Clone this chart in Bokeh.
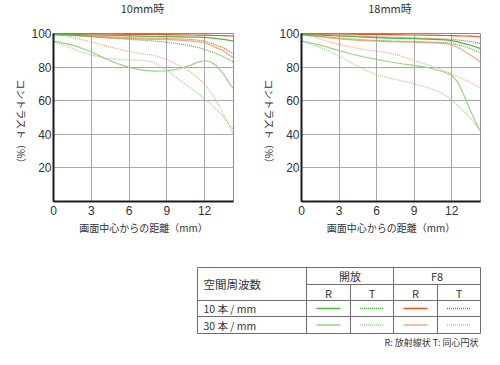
import math
from bokeh.plotting import figure
from bokeh.layouts import column, row
from bokeh.models import Range1d, FixedTicker
from bokeh.core.properties import value
from bokeh.embed import file_html
from bokeh.resources import INLINE

# ---------------- data ----------------
X = [0, 1, 2, 3, 4, 5, 6, 7, 8, 9, 10, 11, 11.5, 12, 12.5, 13, 13.5, 14, 14.3]

# 10mm
w_open_10R = [99.5, 99.4, 99.3, 99.1, 99.0, 98.8, 98.6, 98.4, 98.2, 98.1, 98.0, 97.9, 97.8, 97.7, 97.4, 97.0, 96.5, 95.9, 95.5]
w_open_10T = [99.0, 98.8, 98.5, 98.1, 97.6, 97.1, 96.5, 96.0, 95.5, 94.8, 93.8, 92.5, 91.6, 90.5, 89.2, 87.8, 86.3, 84.2, 83.0]
w_open_30R = [95.5, 94.0, 92.0, 89.0, 85.5, 82.3, 79.8, 78.2, 77.6, 77.8, 79.0, 81.5, 83.0, 83.8, 83.2, 80.5, 76.0, 70.0, 67.0]
w_open_30T = [95.3, 92.5, 89.5, 87.2, 85.5, 84.6, 84.2, 84.1, 82.8, 78.0, 72.5, 67.0, 64.0, 61.0, 58.0, 54.5, 50.5, 45.5, 43.0]
w_f8_10R = [100.0, 100.0, 99.9, 99.8, 99.7, 99.6, 99.5, 99.5, 99.4, 99.3, 99.2, 99.1, 99.0, 99.0, 98.9, 98.8, 98.7, 98.6, 98.5]
w_f8_10T = [100.0, 99.6, 99.1, 98.6, 98.2, 97.9, 97.6, 97.4, 97.2, 97.0, 96.8, 96.4, 96.0, 95.5, 94.2, 92.8, 91.5, 89.3, 88.0]
w_f8_30R = [99.6, 99.2, 98.7, 98.1, 97.6, 97.2, 96.9, 96.7, 96.5, 96.3, 96.0, 95.5, 95.0, 94.5, 93.0, 91.3, 89.6, 87.0, 85.5]
w_f8_30T = [100.0, 98.5, 96.8, 95.0, 93.0, 91.0, 89.3, 88.0, 87.0, 84.5, 80.8, 76.5, 73.5, 70.0, 65.0, 59.0, 52.0, 44.5, 40.0]

# 18mm
t_open_10R = [99.5, 99.2, 98.9, 98.5, 98.2, 97.9, 97.6, 97.3, 97.1, 96.9, 96.7, 96.4, 96.2, 95.8, 95.0, 94.0, 93.0, 91.8, 91.0]
t_open_10T = [99.0, 98.5, 98.0, 97.4, 96.8, 96.3, 95.9, 95.6, 95.4, 95.2, 95.0, 94.8, 94.6, 94.2, 93.3, 92.2, 91.0, 89.5, 88.5]
t_open_30R = [95.5, 94.0, 92.0, 89.8, 87.8, 86.0, 84.6, 83.2, 82.0, 81.0, 79.8, 78.0, 76.8, 75.0, 71.0, 63.0, 54.0, 46.0, 42.0]
t_open_30T = [95.5, 93.0, 90.0, 86.5, 82.5, 78.5, 75.5, 73.5, 71.8, 70.2, 68.0, 65.2, 63.0, 60.2, 57.0, 53.5, 49.5, 45.0, 42.0]
t_f8_10R = [100.0, 99.9, 99.8, 99.7, 99.6, 99.5, 99.4, 99.3, 99.2, 99.1, 99.0, 98.9, 98.8, 98.7, 98.6, 98.5, 98.4, 98.2, 98.0]
t_f8_10T = [99.8, 99.5, 99.2, 98.9, 98.6, 98.3, 98.0, 97.7, 97.5, 97.3, 97.1, 96.9, 96.7, 96.5, 96.1, 95.7, 95.2, 94.6, 94.0]
t_f8_30R = [99.5, 98.5, 97.5, 96.8, 96.2, 95.8, 95.5, 95.2, 95.0, 94.8, 94.6, 94.3, 94.0, 93.3, 91.8, 89.5, 87.2, 84.7, 83.0]
t_f8_30T = [100.0, 98.0, 95.5, 93.5, 91.8, 90.5, 89.5, 88.5, 86.5, 84.0, 81.5, 79.0, 77.5, 76.0, 74.3, 72.5, 70.7, 68.7, 67.5]

x_ticks = [0, 3, 6, 9, 12]
y_ticks = [20, 40, 60, 80, 100]
titles = ["10mm時", "18mm時"]
x_label = "画面中心からの距離（mm）"
y_label = "コントラスト（%）"

table_head = "空間周波数"
apertures = ["開放", "F8"]
directions = ["R", "T"]
freq_labels = ["10 本 / mm", "30 本 / mm"]
caption = "R: 放射線状  T: 同心円状"

# ---------------- styles / layout ----------------
G10 = "#4fb340"
G30 = "#98d387"
O10 = "#e9561b"
O30 = "#f5a67d"
DOT = "1 1"
JP = "Noto Sans CJK JP"
NUM = "Liberation Sans"
TXT = "#333333"

W = 484
STRIP_H = 20                 # title strip
CH_H = 220                   # chart row height
TOP, FR_H = 13, 168          # frame top inside chart row, frame height
FR1 = (51, 182)              # left frame: left px, width
FR2 = (299, 181)             # right frame
YLAB_START = 60              # where the vertical y label begins (row px)

def plain(width, height, y_top):
    f = figure(width=width, height=height, x_range=Range1d(0, width),
               y_range=Range1d(y_top + height, y_top), output_backend="svg",
               toolbar_location=None, x_axis_type=None, y_axis_type=None, min_border=0)
    f.xgrid.visible = False
    f.ygrid.visible = False
    f.outline_line_color = None
    return f

def style_for(ap, fr, d):
    if ap == 0:
        color = G10 if fr == 0 else G30
    else:
        color = O10 if fr == 0 else O30
    dash = "solid" if d == 0 else DOT
    return color, dash

def make_chart(series, width, bl, br):
    p = figure(width=width, height=CH_H, x_range=Range1d(0, 14.3), y_range=Range1d(0, 100),
               output_backend="svg", toolbar_location=None,
               min_border_left=bl, min_border_right=br, min_border_top=TOP,
               min_border_bottom=CH_H - TOP - FR_H)
    p.background_fill_color = "white"
    p.border_fill_color = "white"
    p.outline_line_color = "#8c8c8c"
    p.outline_line_width = 1
    p.xaxis.ticker = FixedTicker(ticks=x_ticks)
    p.yaxis.ticker = FixedTicker(ticks=y_ticks)
    for ax in (p.xaxis, p.yaxis):
        ax.axis_line_color = "#1a1a1a"
        ax.axis_line_width = 2
        ax.major_tick_line_color = None
        ax.minor_tick_line_color = None
        ax.major_tick_out = 0
        ax.major_tick_in = 0
        ax.minor_tick_out = 0
        ax.minor_tick_in = 0
        ax.major_label_text_font = NUM
        ax.major_label_text_font_size = "12px"
        ax.major_label_text_color = TXT
    p.xaxis.major_label_standoff = 4
    p.yaxis.major_label_standoff = 2
    p.yaxis.axis_label_standoff = 0
    p.xaxis.axis_label = x_label
    p.xaxis.axis_label_text_font = JP
    p.xaxis.axis_label_text_font_size = "10px"
    p.xaxis.axis_label_text_font_style = "normal"
    p.xaxis.axis_label_text_color = TXT
    p.xaxis.axis_label_standoff = 2
    p.xgrid.grid_line_color = "#a8a8a8"
    p.ygrid.grid_line_color = "#a8a8a8"
    order = [(0, 1, 1), (1, 1, 1), (0, 1, 0), (1, 1, 0), (0, 0, 1), (1, 0, 1), (0, 0, 0), (1, 0, 0)]
    for key in order:
        c, dsh = style_for(*key)
        p.line(X, series[key], line_color=c, line_width=1.2, line_dash=dsh)
    return p

def label_fig(width, cx):
    f = plain(width, CH_H, 0)
    f.text(x=[cx], y=[YLAB_START], text=[y_label], angle=-math.pi / 2, text_align="left",
           text_baseline="middle", text_font=value(JP), text_font_size="10px", text_color=TXT)
    return f

wide = {(0, 0, 0): w_open_10R, (0, 0, 1): w_open_10T, (0, 1, 0): w_open_30R, (0, 1, 1): w_open_30T,
        (1, 0, 0): w_f8_10R, (1, 0, 1): w_f8_10T, (1, 1, 0): w_f8_30R, (1, 1, 1): w_f8_30T}
tele = {(0, 0, 0): t_open_10R, (0, 0, 1): t_open_10T, (0, 1, 0): t_open_30R, (0, 1, 1): t_open_30T,
        (1, 0, 0): t_f8_10R, (1, 0, 1): t_f8_10T, (1, 1, 0): t_f8_30R, (1, 1, 1): t_f8_30T}

# title strip
strip = plain(W, STRIP_H, 0)
strip.text(x=[FR1[0] + FR1[1] / 2, FR2[0] + FR2[1] / 2], y=[7, 7], text=titles,
           text_align="center", text_baseline="middle", text_font=value(JP),
           text_font_size="11px", text_color=TXT)

# chart row: [label][chart1][label][chart2]
LW1, LW2 = 28, 26
p1 = make_chart(wide, 250 - LW1, FR1[0] - LW1, 250 - FR1[0] - FR1[1])
p2 = make_chart(tele, W - 250 - LW2, FR2[0] - 250 - LW2, W - FR2[0] - FR2[1])
chart_row = row(label_fig(LW1, 21), p1, label_fig(LW2, 19), p2, spacing=0)

# ---------------- table ----------------
TY0 = STRIP_H + CH_H
TY1 = 349
t = plain(W, TY1 - TY0, TY0)

L, R = 197, 480
cols = [306, 350, 393, 437]
rows_y = [267, 284, 300, 316, 333]
LC = "#6e6e6e"
hx0 = [L, cols[0], L, L, L]
hx1 = [R] * 5
t.segment(x0=hx0, y0=rows_y, x1=hx1, y1=rows_y, line_color=LC, line_width=1)
vx = [L, cols[0], cols[1], cols[2], cols[3], R]
vy0 = [rows_y[0], rows_y[0], rows_y[1], rows_y[0], rows_y[1], rows_y[0]]
vy1 = [rows_y[4]] * 6
t.segment(x0=vx, y0=vy0, x1=vx, y1=vy1, line_color=LC, line_width=1)

def txt(x, y, s, align="center", size="11px"):
    t.text(x=[x], y=[y], text=[s], text_align=align, text_baseline="middle",
           text_font=value(JP), text_font_size=size, text_color=TXT)

txt(L + 6, (rows_y[0] + rows_y[2]) / 2, table_head, align="left", size="11.5px")
col_edges = [cols[0], cols[1], cols[2], cols[3], R]
for a in range(2):
    txt((col_edges[2 * a] + col_edges[2 * a + 2]) / 2, (rows_y[0] + rows_y[1]) / 2 - 0.5, apertures[a])
    for d in range(2):
        cx = (col_edges[2 * a + d] + col_edges[2 * a + d + 1]) / 2
        txt(cx, (rows_y[1] + rows_y[2]) / 2, directions[d])
for f in range(2):
    yy = (rows_y[2 + f] + rows_y[3 + f]) / 2
    txt(L + 6, yy, freq_labels[f], align="left", size="10.5px")
    for a in range(2):
        for d in range(2):
            cx = (col_edges[2 * a + d] + col_edges[2 * a + d + 1]) / 2
            c, dsh = style_for(a, f, d)
            t.line([cx - 12, cx + 12], [yy, yy], line_color=c, line_width=1.3, line_dash=dsh)

txt(R, 341.5, caption, align="right", size="9px")

layout = column(strip, chart_row, t, spacing=0)
open("out.html", "w").write(file_html(layout, INLINE))
